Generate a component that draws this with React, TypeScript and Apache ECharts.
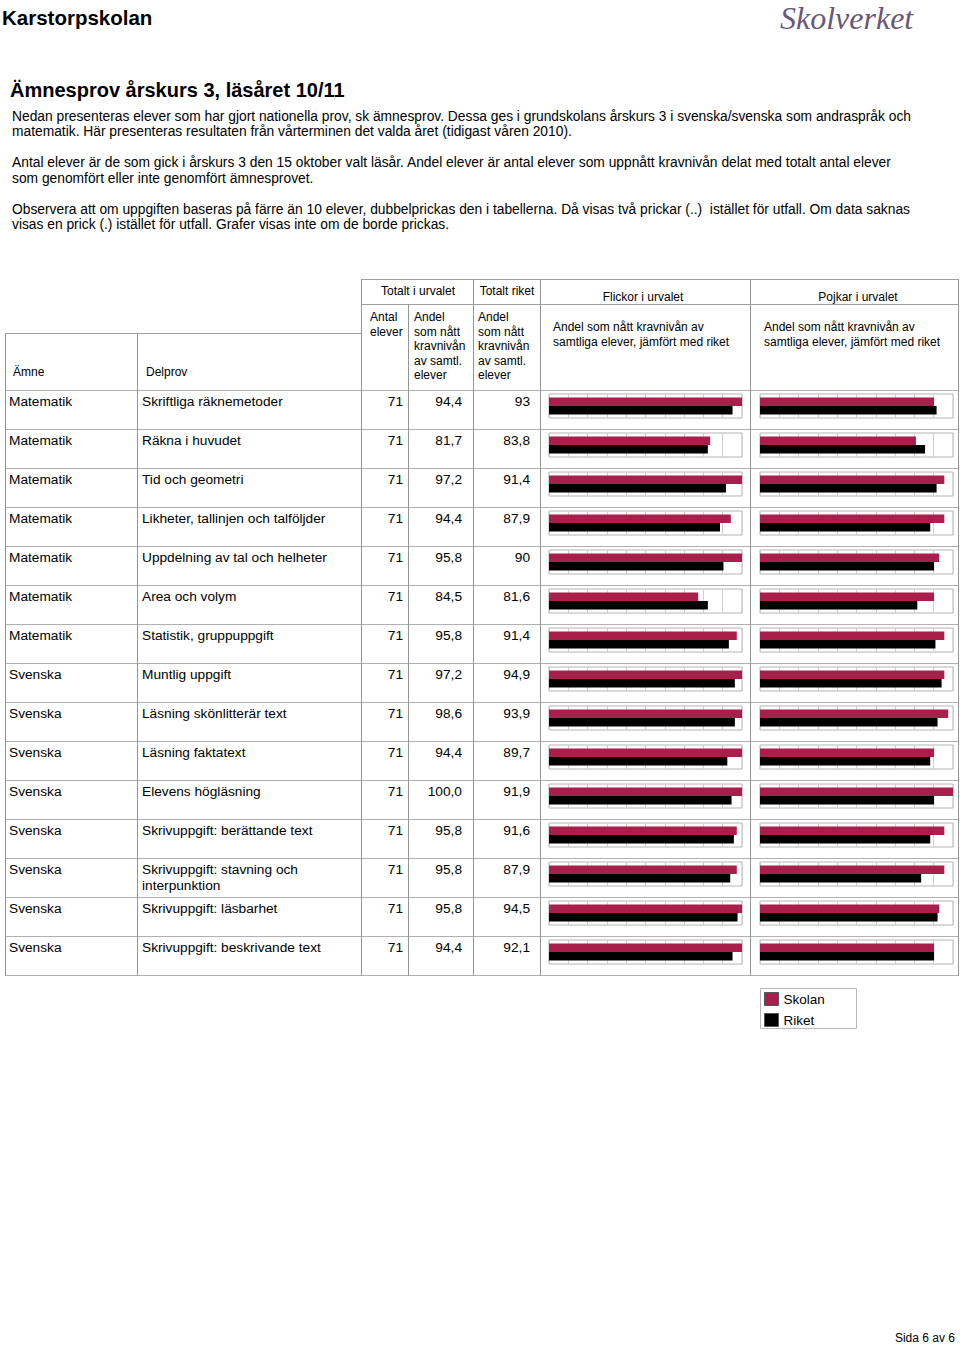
import React, { useEffect, useRef } from "react";
import * as echarts from "echarts";

const schoolName = "Karstorpskolan";
const pageTitle = "Ämnesprov årskurs 3, läsåret 10/11";
const introLines = [
  "Nedan presenteras elever som har gjort nationella prov, sk ämnesprov. Dessa ges i grundskolans årskurs 3 i svenska/svenska som andraspråk och",
  "matematik. Här presenteras resultaten från vårterminen det valda året (tidigast våren 2010).",
  "Antal elever är de som gick i årskurs 3 den 15 oktober valt läsår. Andel elever är antal elever som uppnått kravnivån delat med totalt antal elever",
  "som genomfört eller inte genomfört ämnesprovet.",
  "Observera att om uppgiften baseras på färre än 10 elever, dubbelprickas den i tabellerna. Då visas två prickar (..)  istället för utfall. Om data saknas",
  "visas en prick (.) istället för utfall. Grafer visas inte om de borde prickas.",
];

const amnen = [
  "Matematik", "Matematik", "Matematik", "Matematik", "Matematik", "Matematik", "Matematik",
  "Svenska", "Svenska", "Svenska", "Svenska", "Svenska", "Svenska", "Svenska", "Svenska",
];
const delprov = [
  "Skriftliga räknemetoder",
  "Räkna i huvudet",
  "Tid och geometri",
  "Likheter, tallinjen och talföljder",
  "Uppdelning av tal och helheter",
  "Area och volym",
  "Statistik, gruppuppgift",
  "Muntlig uppgift",
  "Läsning skönlitterär text",
  "Läsning faktatext",
  "Elevens högläsning",
  "Skrivuppgift: berättande text",
  "Skrivuppgift: stavning och\ninterpunktion",
  "Skrivuppgift: läsbarhet",
  "Skrivuppgift: beskrivande text",
];
const antalElever = ["71", "71", "71", "71", "71", "71", "71", "71", "71", "71", "71", "71", "71", "71", "71"];
const andelUrvalet = ["94,4", "81,7", "97,2", "94,4", "95,8", "84,5", "95,8", "97,2", "98,6", "94,4", "100,0", "95,8", "95,8", "95,8", "94,4"];
const andelRiket = ["93", "83,8", "91,4", "87,9", "90", "81,6", "91,4", "94,9", "93,9", "89,7", "91,9", "91,6", "87,9", "94,5", "92,1"];

const flickorSkolan = [100, 83.5, 100, 94.2, 100, 77.3, 97.3, 100, 100, 100, 100, 97.3, 97.3, 100, 100];
const flickorRiket = [95.1, 82.3, 91.7, 88.6, 90.4, 82.3, 93.2, 96.3, 96.3, 92.4, 94.6, 95.8, 93.9, 97.7, 95.1];
const pojkarSkolan = [90.2, 80.8, 95.5, 95.5, 92.8, 90.2, 95.5, 95.5, 97.5, 90.2, 100, 95.5, 95.5, 92.8, 90.2];
const pojkarRiket = [91.5, 85.5, 91.5, 88.2, 90.2, 81.5, 90.9, 94.1, 92.0, 88.2, 90.2, 88.2, 83.5, 92.0, 90.2];

const seriesNames = ["Skolan", "Riket"];
const seriesColors = ["#a81f4c", "#000000"];

const FONT = "Liberation Sans, Arial, sans-serif";

function txt(x: number, y: number, text: string, opts: any = {}) {
  return {
    type: "text",
    x,
    y,
    silent: true,
    style: {
      text,
      fill: opts.fill || "#000",
      fontSize: opts.size || 12,
      fontFamily: opts.family || FONT,
      fontWeight: opts.weight || "normal",
      fontStyle: opts.style || "normal",
      textAlign: opts.align || "left",
      textVerticalAlign: opts.valign || "middle",
      lineHeight: opts.lineHeight,
    },
  };
}
function ln(x1: number, y1: number, x2: number, y2: number, color = "#a8a8a8") {
  return {
    type: "line",
    silent: true,
    shape: { x1, y1, x2, y2 },
    style: { stroke: color, lineWidth: 1 },
  };
}

export default function App() {
  const ref = useRef<HTMLDivElement>(null);
  useEffect(() => {
    if (!ref.current) return;
    const chart = echarts.init(ref.current, undefined, { renderer: "svg" });

    const ROW0 = 390;
    const ROWH = 39;
    const nRows = delprov.length;
    const tableBottom = ROW0 + ROWH * nRows;

    const graphic: any[] = [];
    // page header
    graphic.push(txt(2, 17, schoolName, { size: 20.5, weight: "bold" }));
    graphic.push(txt(780, 18, "Skolverket", { size: 32, family: "Liberation Serif, serif", style: "italic", fill: "#675879" }));
    graphic.push(txt(10, 90, pageTitle, { size: 20, weight: "bold" }));
    const introY = [116, 131, 162, 178, 209, 224];
    introLines.forEach((l, i) => graphic.push(txt(12, introY[i], l, { size: 13.8 })));

    // table header lines
    const hc = "#a0a0a0";
    graphic.push(ln(361, 279.5, 959, 279.5, hc));
    graphic.push(ln(361, 304.5, 959, 304.5, hc));
    graphic.push(ln(5, 333.5, 361, 333.5, hc));
    for (let k = 0; k <= nRows; k++) {
      const y = ROW0 + ROWH * k + 0.5;
      graphic.push(ln(5, y, 959, y, "#b0b0b0"));
    }
    const vc = "#959595";
    graphic.push(ln(5.5, 333, 5.5, tableBottom + 1, vc));
    graphic.push(ln(137.5, 333, 137.5, tableBottom + 1, vc));
    graphic.push(ln(361.5, 279, 361.5, tableBottom + 1, vc));
    graphic.push(ln(408.5, 304, 408.5, tableBottom + 1, vc));
    graphic.push(ln(473.5, 279, 473.5, tableBottom + 1, vc));
    graphic.push(ln(540.5, 279, 540.5, tableBottom + 1, vc));
    graphic.push(ln(750.5, 279, 750.5, tableBottom + 1, vc));
    graphic.push(ln(958.5, 279, 958.5, tableBottom + 1, vc));

    // header texts
    graphic.push(txt(418, 291, "Totalt i urvalet", { align: "center" }));
    graphic.push(txt(507, 291, "Totalt riket", { align: "center" }));
    graphic.push(txt(643, 297, "Flickor i urvalet", { align: "center" }));
    graphic.push(txt(858, 297, "Pojkar i urvalet", { align: "center" }));
    graphic.push(txt(370, 310, "Antal\nelever", { valign: "top", lineHeight: 14.5 }));
    graphic.push(txt(414, 310, "Andel\nsom nått\nkravnivån\nav samtl.\nelever", { valign: "top", lineHeight: 14.5 }));
    graphic.push(txt(478, 310, "Andel\nsom nått\nkravnivån\nav samtl.\nelever", { valign: "top", lineHeight: 14.5 }));
    graphic.push(txt(553, 320, "Andel som nått kravnivån av\nsamtliga elever, jämfört med riket", { valign: "top", lineHeight: 14.5 }));
    graphic.push(txt(764, 320, "Andel som nått kravnivån av\nsamtliga elever, jämfört med riket", { valign: "top", lineHeight: 14.5 }));
    graphic.push(txt(13, 372, "Ämne"));
    graphic.push(txt(146, 372, "Delprov"));

    // rows
    for (let i = 0; i < nRows; i++) {
      const top = ROW0 + ROWH * i;
      const o = { size: 13.7, valign: "top", lineHeight: 16 };
      graphic.push(txt(9, top + 3, amnen[i], o));
      graphic.push(txt(142, top + 3, delprov[i], o));
      graphic.push(txt(403, top + 3, antalElever[i], { ...o, align: "right" }));
      graphic.push(txt(462, top + 3, andelUrvalet[i], { ...o, align: "right" }));
      graphic.push(txt(530, top + 3, andelRiket[i], { ...o, align: "right" }));
    }

    // legend box
    graphic.push({
      type: "rect",
      silent: true,
      shape: { x: 760.5, y: 988.5, width: 96, height: 40 },
      style: { fill: "#fff", stroke: "#b8b8b8", lineWidth: 1 },
      z: 0,
    });
    graphic.push(txt(955, 1338, "Sida 6 av 6", { align: "right", size: 12 }));

    // grids
    const grids: any[] = [];
    const xAxes: any[] = [];
    const yAxes: any[] = [];
    const series: any[] = [];
    const groups = [
      { left: 549, skolan: flickorSkolan, riket: flickorRiket },
      { left: 760, skolan: pojkarSkolan, riket: pojkarRiket },
    ];
    let gi = 0;
    for (let i = 0; i < nRows; i++) {
      const top = ROW0 + ROWH * i + 4;
      for (const g of groups) {
        grids.push({
          left: g.left,
          top,
          width: 193,
          height: 24,
          show: true,
          borderColor: "#b4b4b4",
          borderWidth: 1,
          backgroundColor: "#fff",
        });
        xAxes.push({
          type: "value",
          gridIndex: gi,
          min: 0,
          max: 100,
          interval: 10,
          axisLabel: { show: false },
          axisLine: { show: false },
          axisTick: { show: false },
          splitLine: { show: true, lineStyle: { color: "#cfcfcf", width: 1 } },
        });
        yAxes.push({
          type: "category",
          gridIndex: gi,
          data: [delprov[i]],
          inverse: true,
          axisLabel: { show: false },
          axisLine: { show: false },
          axisTick: { show: false },
          splitLine: { show: false },
        });
        const vals = [g.skolan[i], g.riket[i]];
        vals.forEach((v, s) => {
          series.push({
            type: "bar",
            name: seriesNames[s],
            xAxisIndex: gi,
            yAxisIndex: gi,
            data: [v],
            barWidth: 8.5,
            barGap: "0%",
            itemStyle: { color: seriesColors[s] },
            silent: true,
          });
        });
        gi++;
      }
    }

    chart.setOption({
      animation: false,
      backgroundColor: "#fff",
      textStyle: { fontFamily: FONT },
      graphic,
      grid: grids,
      xAxis: xAxes,
      yAxis: yAxes,
      series,
      legend: {
        orient: "vertical",
        left: 764,
        top: 992,
        padding: 0,
        itemWidth: 14,
        itemHeight: 13,
        itemGap: 7,
        icon: "rect",
        data: seriesNames,
        itemStyle: { borderColor: "#555", borderWidth: 1 },
        textStyle: { fontSize: 13.5, color: "#000", fontFamily: FONT },
        selectedMode: false,
      },
    });
    return () => chart.dispose();
  }, []);
  return (
    <div
      ref={ref}
      style={{ position: "absolute", left: 0, top: 0, width: 960, height: 1346, background: "#fff" }}
    />
  );
}
